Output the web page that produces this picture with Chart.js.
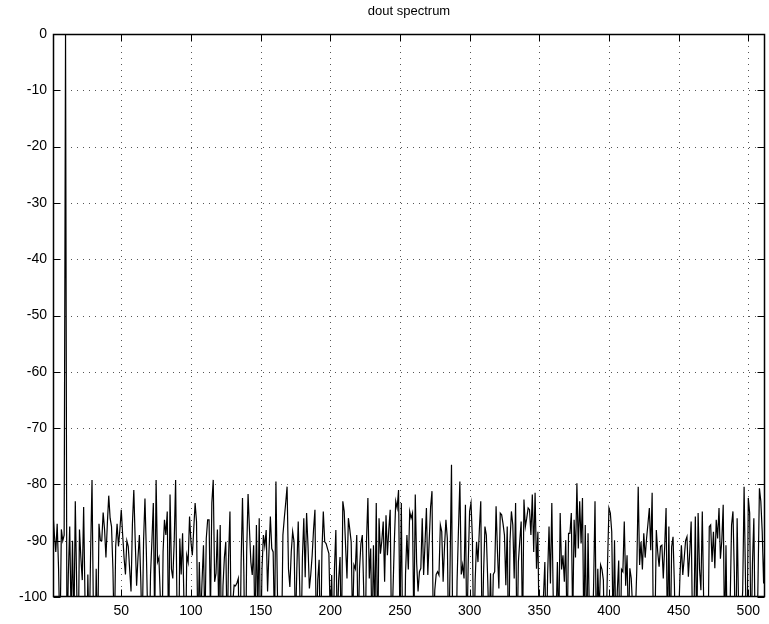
<!DOCTYPE html>
<html>
<head>
<meta charset="utf-8">
<title>dout spectrum</title>
<script src="https://cdn.jsdelivr.net/npm/chart.js@4.4.1/dist/chart.umd.min.js"></script>
<style>
  html, body { margin: 0; padding: 0; background: #fff; }
  #wrap { width: 769px; height: 624px; }
</style>
</head>
<body>
<div id="wrap"><canvas id="spectrumChart" width="769" height="624"></canvas></div>
<script>
// Spectrum magnitude in dB, one value per FFT bin (1..512).
// Values below -100 are off the bottom of the axes and get clipped.
const spectrumDb = [
  -85, -89, -92, -87, -95, -108, -88, -90, -89, 0,
  -110, -96, -87.5, -104, -90, -106, -83, -98, -112, -88,
  -93, -97, -84, -101, -115, -96, -108, -92, -79.2, -103,
  -118, -95, -110, -87, -90, -90, -85, -88, -93, -87,
  -82, -86, -87.5, -95, -108, -91, -87, -91, -88, -84.5,
  -89, -93, -96, -90, -91, -95, -99, -87, -81, -90,
  -98, -93, -89, -97, -107, -90, -82.5, -92, -104, -112,
  -96, -90, -83.3, -105, -79.2, -93.8, -93, -100, -114, -92,
  -86.3, -89, -84.8, -109, -81.8, -95, -96.7, -90, -79.2, -102,
  -117, -89.6, -96, -88.7, -101, -113, -92.6, -93.8, -85.7, -90.2,
  -92.6, -88, -83.3, -86.6, -108, -93.8, -104, -97, -90.8, -106,
  -89.6, -86.3, -86.3, -103, -83.3, -79.2, -97.3, -95.8, -88, -104,
  -87.2, -112, -98, -93, -90.2, -108, -93, -84.8, -110, -101,
  -97.9, -98, -97.5, -96.7, -115, -94, -82.4, -96, -118, -92,
  -81.7, -88, -93.8, -96.1, -90.8, -107, -87.2, -104, -86, -111,
  -95, -89, -91, -88.1, -99, -92, -85.7, -91.4, -92, -106,
  -79.5, -98, -113, -101, -109, -89, -86, -83.3, -80.4, -95,
  -98.2, -92, -88.4, -90.2, -106, -95, -86.6, -97.6, -109, -93,
  -86, -96.5, -85.1, -90.8, -98.5, -96, -92.6, -88, -84.5, -108,
  -97, -93.4, -112, -92, -84.8, -90.2, -90.5, -91.4, -92.3, -104,
  -96.1, -110, -95, -88.1, -106, -97, -92.9, -109, -83, -84.8,
  -91, -96.7, -86, -88, -90.2, -105, -94.3, -95, -89, -107,
  -95, -90.5, -89, -99, -112, -90, -82.4, -96.7, -91.4, -108,
  -90.8, -104, -83.3, -110, -86, -92.3, -90, -86.6, -97.3, -85.5,
  -92.6, -88, -84.5, -108, -99, -90, -83, -84.2, -81, -105,
  -83.3, -110, -115, -96, -89, -95.1, -84.8, -86, -85.1, -106,
  -81.8, -94, -99, -95.5, -94.9, -86, -96.1, -90.5, -84.2, -96.1,
  -90, -84, -81.2, -108, -98.8, -96, -95.5, -96.1, -87.2, -88.4,
  -97.3, -91, -86.3, -89.6, -110, -94, -76.5, -112, -104, -118,
  -97.3, -88, -79.5, -96, -94.3, -96.7, -83.6, -108, -94, -84.8,
  -83.3, -89.6, -110, -97, -90.2, -93.8, -88, -83, -109, -96,
  -87.5, -89, -97, -106, -95.8, -108, -96, -95.5, -83.9, -92,
  -98.5, -85.1, -85.4, -87, -89, -97.9, -87.5, -112, -90, -84.8,
  -87.2, -96.7, -83.3, -110, -93.8, -90, -86.6, -107, -82.7, -87.5,
  -86, -84.2, -84.5, -89, -81.8, -92, -81.5, -95, -88.4, -109,
  -104, -118, -100, -93.8, -111, -96, -87.5, -97.6, -83.3, -100,
  -116, -105, -93.8, -106, -85.1, -95.1, -92.6, -97.3, -89.9, -108,
  -88.7, -88.7, -85.1, -105, -86.3, -93, -79.8, -91.4, -83, -90.5,
  -82.4, -107, -87.2, -110, -88.7, -104, -115, -108, -98, -83,
  -109, -95, -103, -94.3, -95.1, -97, -112, -106, -94, -84.2,
  -85.1, -88.4, -106, -89.9, -108, -99, -93.5, -112, -95.1, -95.5,
  -86.6, -98, -92.6, -106, -94.9, -96.7, -102, -112, -103, -95,
  -80.4, -94.3, -90.2, -95.1, -88.7, -93, -89.6, -87, -84.2, -91.7,
  -81.5, -110, -106, -88.1, -92, -94.6, -91, -90.8, -96.7, -91.1,
  -84.2, -108, -87.5, -110, -91.1, -89.3, -98, -113, -118, -104,
  -96, -90.8, -96.1, -93.2, -90, -89.3, -96.4, -92, -86.6, -106,
  -104, -85.7, -108, -85.1, -95, -98.8, -84.8, -101, -116, -106,
  -112, -87.5, -87.2, -93.8, -88.4, -94.9, -86.3, -89.6, -84.2, -93.2,
  -90, -83.6, -108, -90.8, -110, -117, -101, -87.2, -84.8, -96,
  -113, -86, -101, -109, -104, -98.8, -80.4, -97, -114, -82.4,
  -85.1, -110, -94, -86, -108, -112, -97, -80.7, -83, -88.4,
  -97.6, -89.9,
];

// Bin numbers along x
const bins = spectrumDb.map((_, i) => i + 1);

// Tick values
const xTicks = [50, 100, 150, 200, 250, 300, 350, 400, 450, 500];
const yTicks = [-100, -90, -80, -70, -60, -50, -40, -30, -20, -10, 0];

Chart.defaults.font.family = "'Liberation Sans', Arial, Helvetica, sans-serif";
Chart.defaults.color = "#000";

// MATLAB-ish axes: dotted grid under the data, closed box and inward ticks on top
const axesBox = {
  id: "axesBox",
  beforeDatasetsDraw(chart) {
    const { ctx, chartArea: a, scales } = chart;
    ctx.save();
    ctx.strokeStyle = "#555";
    ctx.lineWidth = 1;
    ctx.setLineDash([1, 5]);
    xTicks.forEach((v) => {
      const x = Math.round(scales.x.getPixelForValue(v)) + 0.5;
      ctx.beginPath();
      ctx.moveTo(x, a.top);
      ctx.lineTo(x, a.bottom);
      ctx.stroke();
    });
    yTicks.slice(1, -1).forEach((v) => {
      const y = Math.round(scales.y.getPixelForValue(v)) + 0.5;
      ctx.beginPath();
      ctx.moveTo(a.left, y);
      ctx.lineTo(a.right, y);
      ctx.stroke();
    });
    ctx.restore();
  },
  afterDatasetsDraw(chart) {
    const { ctx, chartArea: a, scales } = chart;
    const tick = 7;
    ctx.save();
    ctx.strokeStyle = "#000";
    ctx.lineWidth = 1.5;
    ctx.setLineDash([]);
    const l = Math.round(a.left) + 0.5, r = Math.round(a.right) - 0.5;
    const t = Math.round(a.top) + 0.5, b = Math.round(a.bottom) - 0.5;
    ctx.strokeRect(l, t, r - l, b - t);
    ctx.lineWidth = 1;
    ctx.beginPath();
    xTicks.forEach((v) => {
      const x = Math.round(scales.x.getPixelForValue(v)) + 0.5;
      ctx.moveTo(x, b); ctx.lineTo(x, b - tick);
      ctx.moveTo(x, t); ctx.lineTo(x, t + tick);
    });
    yTicks.forEach((v) => {
      const y = Math.round(scales.y.getPixelForValue(v)) + 0.5;
      ctx.moveTo(l, y); ctx.lineTo(l + tick, y);
      ctx.moveTo(r, y); ctx.lineTo(r - tick, y);
    });
    ctx.stroke();
    ctx.restore();
  },
};

const ctx = document.getElementById("spectrumChart").getContext("2d");

const spectrumChart = new Chart(ctx, {
  type: "line",
  data: {
    labels: bins,
    datasets: [
      {
        label: "dout",
        data: spectrumDb,
        borderColor: "#000",
        borderWidth: 1.2,
        pointRadius: 0,
        tension: 0,
        fill: false,
        clip: 0,
      },
    ],
  },
  options: {
    responsive: false,
    animation: false,
    events: [],
    layout: {
      padding: { top: 0, right: 4, bottom: 0, left: 0 },
    },
    plugins: {
      legend: { display: false },
      tooltip: { enabled: false },
      title: {
        display: true,
        fullSize: false,
        text: "dout spectrum",
        color: "#000",
        font: { size: 13, weight: "normal" },
        padding: { top: 4, bottom: 14.4 },
      },
    },
    scales: {
      x: {
        type: "linear",
        min: 1,
        max: 512,
        grid: { display: false, drawTicks: false },
        border: { display: false },
        afterBuildTicks: (scale) => {
          scale.ticks = xTicks.map((v) => ({ value: v }));
        },
        afterFit: (scale) => {
          scale.height = 27;
        },
        ticks: {
          autoSkip: false,
          maxRotation: 0,
          padding: 6,
          font: { size: 14 },
        },
      },
      y: {
        min: -100,
        max: 0,
        grid: { display: false, drawTicks: false },
        border: { display: false },
        afterBuildTicks: (scale) => {
          scale.ticks = yTicks.map((v) => ({ value: v }));
        },
        afterFit: (scale) => {
          scale.width = 53;
        },
        ticks: {
          padding: 6,
          font: { size: 14 },
        },
      },
    },
  },
  plugins: [axesBox],
});
</script>
</body>
</html>
